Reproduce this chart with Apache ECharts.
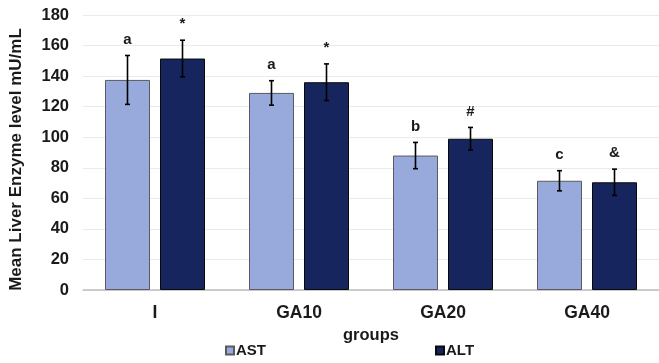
<!DOCTYPE html>
<html>
<head>
<meta charset="utf-8">
<script src="https://cdn.jsdelivr.net/npm/echarts@6/dist/echarts.min.js"></script>
<style>html,body{margin:0;padding:0;background:#fff;}#c{width:659px;height:363px;}</style>
</head>
<body>
<div id="c"></div>
<script>
const categories = ['I', 'GA10', 'GA20', 'GA40'];
const astValues = [137.5, 129, 88, 71.5];
const astErrors = [16, 8, 8.6, 6.6];
const astMarks = ['a', 'a', 'b', 'c'];
const altValues = [151.5, 136, 99, 70.5];
const altErrors = [12, 12, 7.4, 8.6];
const altMarks = ['*', '*', '#', '&'];
const yTicks = { min: 0, max: 180, interval: 20 };

const BAR_W = 45, BAR_GAP = 10;
const FONT = 'Liberation Sans, Arial, sans-serif';

function errSeries(name, vals, errs, marks, sign) {
  return {
    name: name + ' err',
    type: 'custom',
    z: 10,
    silent: true,
    data: vals.map((v, i) => [i, v, errs[i], marks[i]]),
    renderItem: function (params, api) {
      const i = api.value(0), v = api.value(1), e = api.value(2);
      const off = sign * (BAR_W + BAR_GAP) / 2;
      const top = api.coord([i, v + e]);
      const bot = api.coord([i, v - e]);
      const x = top[0] + off;
      const cap = 2.5;
      const st = { stroke: '#000', lineWidth: 1.6 };
      return {
        type: 'group',
        children: [
          { type: 'line', shape: { x1: x, y1: top[1], x2: x, y2: bot[1] }, style: st },
          { type: 'line', shape: { x1: x - cap, y1: top[1], x2: x + cap, y2: top[1] }, style: st },
          { type: 'line', shape: { x1: x - cap, y1: bot[1], x2: x + cap, y2: bot[1] }, style: st },
          { type: 'text', style: { text: marks[params.dataIndex], x: x, y: top[1] - 16, align: 'center', verticalAlign: 'middle', fill: '#1a1a1a', font: 'bold 15px ' + FONT } }
        ]
      };
    }
  };
}

const chart = echarts.init(document.getElementById('c'), null, { renderer: 'canvas' });
chart.setOption({
  animation: false,
  backgroundColor: '#fff',
  grid: { left: 81, right: 0, top: 15, bottom: 73 },
  legend: {
    data: ['AST', 'ALT'],
    left: 220, bottom: 0,
    itemWidth: 8, itemHeight: 8, itemGap: 169,
    icon: 'rect',
    textStyle: { fontFamily: FONT, fontWeight: 'bold', fontSize: 15, color: '#1a1a1a', padding: [0, 0, 0, -3] }
  },
  xAxis: {
    type: 'category',
    data: categories,
    name: 'groups',
    nameLocation: 'middle',
    nameGap: 36,
    nameTextStyle: { fontFamily: FONT, fontWeight: 'bold', fontSize: 16.5, color: '#1a1a1a' },
    axisLine: { lineStyle: { color: '#bfbfbf', width: 1.5 } },
    axisTick: { show: false },
    axisLabel: { fontFamily: FONT, fontWeight: 'bold', fontSize: 17.5, color: '#1a1a1a', margin: 14 }
  },
  yAxis: {
    type: 'value',
    min: yTicks.min, max: yTicks.max, interval: yTicks.interval,
    name: 'Mean Liver Enzyme level mU/mL',
    nameLocation: 'middle',
    nameGap: 58,
    nameTextStyle: { fontFamily: FONT, fontWeight: 'bold', fontSize: 17, color: '#1a1a1a', padding: [0, 14, 0, 0] },
    axisLine: { show: false },
    axisTick: { show: false },
    axisLabel: { fontFamily: FONT, fontWeight: 'bold', fontSize: 16.5, color: '#1a1a1a', margin: 14 },
    splitLine: { lineStyle: { color: '#ebebeb', width: 1 } }
  },
  series: [
    {
      name: 'AST', type: 'bar', data: astValues, barWidth: BAR_W, barGap: (BAR_GAP / BAR_W * 100) + '%',
      itemStyle: { color: '#98AADB', borderColor: '#5a5a5a', borderWidth: 1 }
    },
    {
      name: 'ALT', type: 'bar', data: altValues, barWidth: BAR_W,
      itemStyle: { color: '#17255F', borderColor: '#0a0a0a', borderWidth: 1 }
    },
    errSeries('AST', astValues, astErrors, astMarks, -1),
    errSeries('ALT', altValues, altErrors, altMarks, 1)
  ]
});
</script>
</body>
</html>
